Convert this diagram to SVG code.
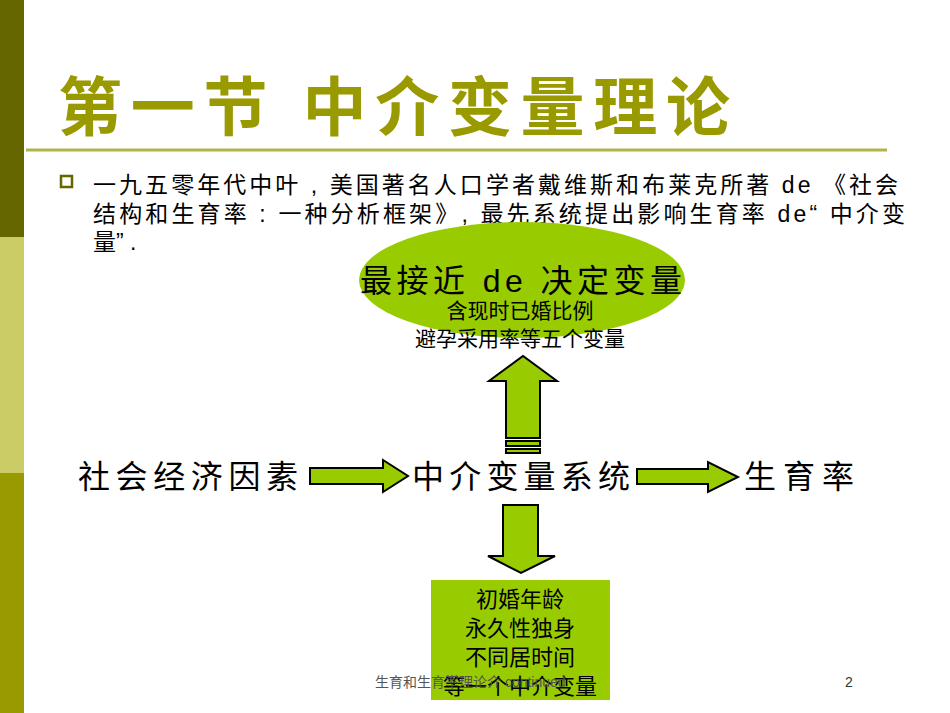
<svg xmlns="http://www.w3.org/2000/svg" width="950" height="713" viewBox="0 0 950 713">
<style>
.cj{font-family:"Liberation Sans","Noto Sans CJK SC",sans-serif}
.ar{fill:#99cc00;stroke:#000;stroke-width:2}
</style>
<rect width="950" height="713" fill="#fff"/>
<rect x="0" y="0" width="24" height="237" fill="#666600"/>
<rect x="0" y="237" width="24" height="236" fill="#cccc66"/>
<rect x="0" y="473" width="24" height="240" fill="#999900"/>
<text x="58" y="130" class="cj" font-size="64" font-weight="bold" fill="#999900" textLength="672" lengthAdjust="spacing">第一节  中介变量理论</text>
<line x1="26" y1="150" x2="887" y2="150" stroke="#b3b34d" stroke-width="3"/>
<rect x="61" y="176" width="11" height="11" fill="none" stroke="#666600" stroke-width="2.5"/>
<g class="cj" font-size="23" fill="#000">
<text x="93" y="193" textLength="805" lengthAdjust="spacing">一九五零年代中叶 , 美国著名人口学者戴维斯和布莱克所著 de 《社会</text>
<text x="93" y="222" textLength="812" lengthAdjust="spacing">结构和生育率 : 一种分析框架》, 最先系统提出影响生育率 de“ 中介变</text>
<text x="93" y="250">量” .</text>
</g>
<g id="top">
<ellipse cx="522" cy="280" rx="163" ry="58" fill="#99cc00"/>
<text x="360" y="292" class="cj" font-size="32" textLength="322" lengthAdjust="spacing">最接近 de 决定变量</text>
<text x="520" y="318" text-anchor="middle" class="cj" font-size="21">含现时已婚比例</text>
<text x="520" y="346" text-anchor="middle" class="cj" font-size="21">避孕采用率等五个变量</text>
</g>
<g id="connectors">
<polygon class="ar" points="506,438 506,381 489,381 523,356 557,381 540,381 540,438"/>
<rect class="ar" x="506" y="441" width="34" height="5"/>
<rect class="ar" x="506" y="449" width="34" height="4"/>
<polygon class="ar" points="310,468 383,468 383,460 408,476 383,492 383,484 310,484"/>
<polygon class="ar" points="637,469 708,469 708,462 738,477 708,492 708,484 637,484"/>
<polygon class="ar" points="503,505 538,505 538,556 555,556 521,573 488,556 503,556"/>
</g>
<g id="nodes" class="cj" font-size="32">
<text x="78" y="488" textLength="220" lengthAdjust="spacing">社会经济因素</text>
<text x="412" y="488" textLength="218" lengthAdjust="spacing">中介变量系统</text>
<text x="744" y="488" textLength="110" lengthAdjust="spacing">生育率</text>
</g>
<g id="box">
<rect x="431" y="580" width="179" height="120" fill="#99cc00"/>
<g class="cj" font-size="22" text-anchor="middle">
<text x="520" y="607">初婚年龄</text>
<text x="520" y="636">永久性独身</text>
<text x="520" y="665">不同居时间</text>
<text x="520" y="694">等一个中介变量</text>
</g>
</g>
<text x="375" y="687" class="cj" font-size="14" fill="#555">生育和生育率理论介 continued</text>
<text x="845" y="687" class="cj" font-size="14" fill="#333">2</text>
</svg>
